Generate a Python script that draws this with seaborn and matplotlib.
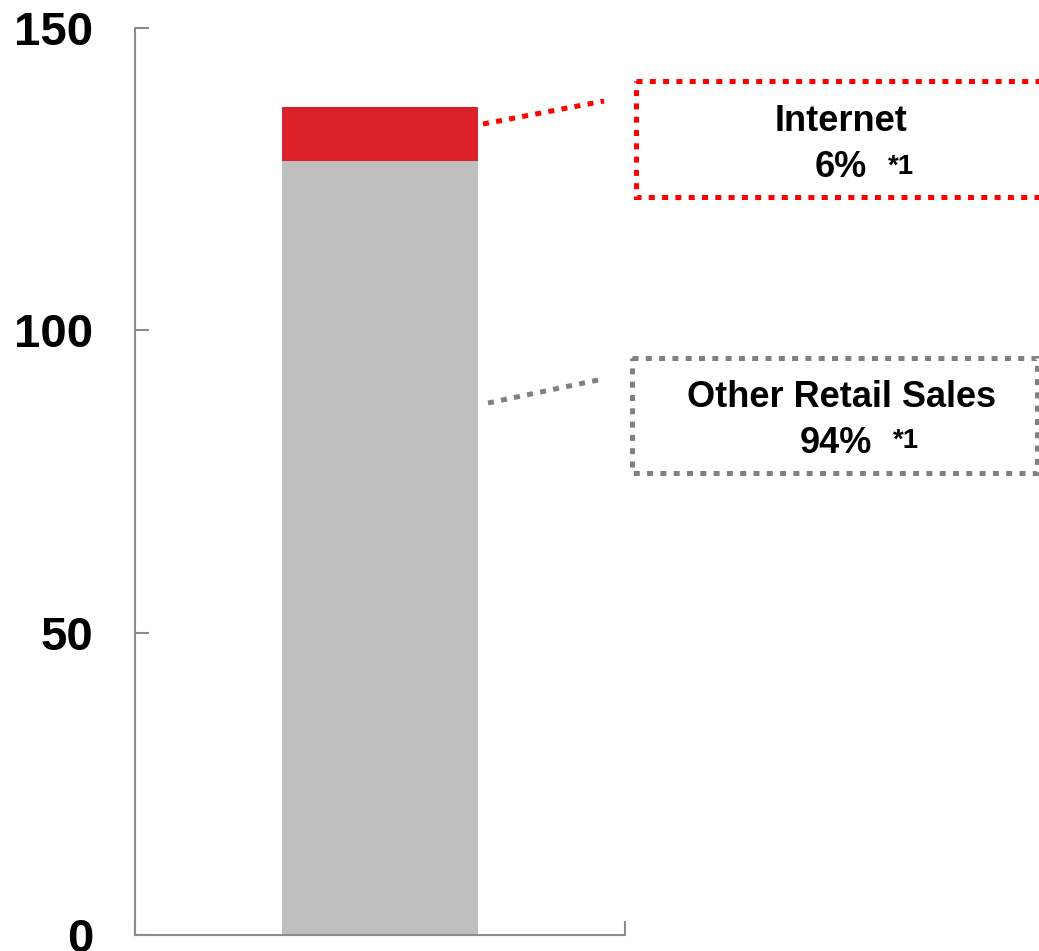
import matplotlib
matplotlib.use("Agg")
import matplotlib.pyplot as plt
import seaborn as sns
import pandas as pd
from matplotlib.patches import Rectangle

# Retail sales split (single stacked column)
categories = ["Retail Sales"]
other_retail = [128.0]
internet = [8.9]
y_ticks = [0, 50, 100, 150]
box_titles = ["Internet", "Other Retail Sales"]
box_shares = ["6%", "94%"]
footnote = "*1"

sns.set_theme(style="white")
plt.rcParams["font.family"] = ["Liberation Sans", "DejaVu Sans"]
plt.rcParams["font.weight"] = "bold"
plt.rcParams["text.color"] = "black"

W, H = 1039, 951
fig = plt.figure(figsize=(W / 100, H / 100), dpi=100)
ax = fig.add_axes([135 / W, 1 - 935 / H, 490 / W, 907 / H])

df = pd.DataFrame({"segment": categories, "other": other_retail, "internet": internet})
df["total"] = df["other"] + df["internet"]

# stacked column: full height in red, the larger share drawn over it in grey
sns.barplot(data=df, x="segment", y="total", color="#DA2029", width=0.4,
            saturation=1, errorbar=None, edgecolor="none", linewidth=0, ax=ax)
sns.barplot(data=df, x="segment", y="other", color="#BFBFBF", width=0.4,
            saturation=1, errorbar=None, edgecolor="none", linewidth=0, ax=ax)

ax.set_xlim(-0.5, 0.5)
ax.set_ylim(0, 150)
ax.set_yticks(y_ticks)
ax.set_yticklabels([str(t) for t in y_ticks], fontsize=34, fontweight="bold", color="black")
ax.set_xticks([-0.5, 0.5])
ax.set_xticklabels(["", ""])
ax.set_xlabel("")
ax.set_ylabel("")
spine_col = "#8C8C8C"
for side in ["top", "right"]:
    ax.spines[side].set_visible(False)
for side in ["left", "bottom"]:
    ax.spines[side].set_color(spine_col)
    ax.spines[side].set_linewidth(1.5)
ax.tick_params(axis="y", direction="in", length=10, width=1.5, color=spine_col, pad=30, left=True)
ax.tick_params(axis="x", direction="in", length=10, width=1.5, color=spine_col, bottom=True)

# callout layer in pixel coordinates
ov = fig.add_axes([0, 0, 1, 1], zorder=5)
ov.set_xlim(0, W)
ov.set_ylim(H, 0)
ov.axis("off")
dots = (0, (1.2, 1.46))

red = "#FF0000"
grey = "#808080"
txt = dict(va="baseline", fontweight="bold", color="black")

ov.plot([483, 604], [124, 101], color=red, lw=3.6, linestyle=dots, solid_capstyle="butt")
ov.add_patch(Rectangle((636, 81), 420, 116, fill=False, edgecolor=red, lw=3.6, linestyle=dots))
ov.text(841, 131, box_titles[0], ha="center", fontsize=26, **txt)
ov.text(867, 177, box_shares[0], ha="right", fontsize=26, **txt)
ov.text(888, 174, footnote, ha="left", fontsize=20, **txt)

ov.plot([488, 598], [403, 380], color=grey, lw=3.6, linestyle=dots, solid_capstyle="butt")
ov.add_patch(Rectangle((632, 358), 405, 115, fill=False, edgecolor=grey, lw=3.6, linestyle=dots))
ov.text(842, 407, box_titles[1], ha="center", fontsize=26, **txt)
ov.text(872, 453, box_shares[1], ha="right", fontsize=26, **txt)
ov.text(893, 448, footnote, ha="left", fontsize=20, **txt)

fig.savefig("out.png", dpi=100)
